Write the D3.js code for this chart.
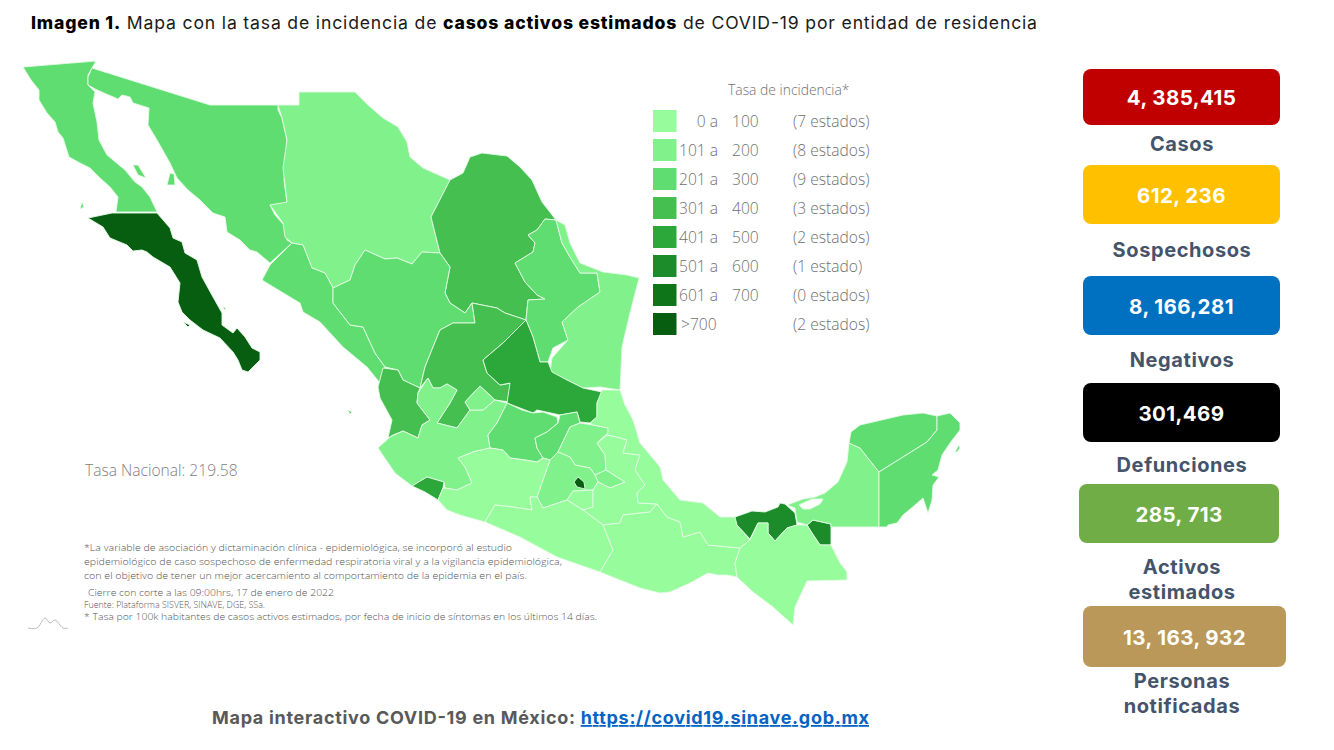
<!DOCTYPE html>
<html>
<head>
<meta charset="utf-8">
<script src="https://cdn.jsdelivr.net/npm/d3@7"></script>
<style>
html, body { margin: 0; background: #fff; }
svg { display: block; }
text { font-family: "Open Sans", sans-serif; }
.bold { font-family: Inter, sans-serif; font-weight: 700; }
</style>
</head>
<body>
<svg id="chart" width="1334" height="750"></svg>
<script>
// values
var stateNames = ['Baja California', 'Baja California Sur', 'Sonora', 'Chihuahua', 'Coahuila', 'Nuevo Leon', 'Tamaulipas',
    'Sinaloa', 'Durango', 'Zacatecas', 'Nayarit', 'Jalisco', 'Aguascalientes', 'Colima', 'San Luis Potosi', 'Guanajuato',
    'Queretaro', 'Hidalgo', 'Tlaxcala', 'Mexico', 'Ciudad de Mexico', 'Morelos', 'Puebla', 'Michoacan', 'Guerrero',
    'Oaxaca', 'Veracruz', 'Tabasco', 'Chiapas', 'Campeche', 'Yucatan', 'Quintana Roo'];
var stateRates = [260, 780, 250, 170, 350, 270, 150,
    240, 230, 340, 320, 180, 160, 450, 440, 240,
    280, 190, 130, 170, 860, 90, 80, 85, 60,
    50, 70, 550, 30, 150, 260, 280];

var rateBreaks = [101, 201, 301, 401, 501, 601, 701];
var rateColors = ['#97fc9b', '#80f18b', '#60dd71', '#45bf50', '#2ca83a', '#1c8c2b', '#0e7619', '#075d10'];
var legendFrom = ['0 a', '101 a', '201 a', '301 a', '401 a', '501 a', '601 a', '>700'];
var legendTo = ['100', '200', '300', '400', '500', '600', '700', ''];
var legendCounts = ['(7 estados)', '(8 estados)', '(9 estados)', '(3 estados)', '(2 estados)', '(1 estado)', '(0 estados)', '(2 estados)'];

var cardValues = ['4, 385,415', '612, 236', '8, 166,281', '301,469', '285, 713', '13, 163, 932'];
var cardColors = ['#c00000', '#ffc000', '#0070c0', '#000000', '#70ad47', '#b99859'];
var cardLabels = [['Casos'], ['Sospechosos'], ['Negativos'], ['Defunciones'], ['Activos', 'estimados'], ['Personas', 'notificadas']];

var footnotes = [
    '*La variable de asociación y dictaminación clínica - epidemiológica, se incorporó al estudio',
    'epidemiológico de caso sospechoso de enfermedad respiratoria viral y a la vigilancia epidemiológica,',
    'con el objetivo de tener un mejor acercamiento al comportamiento de la epidemia en el país.',
    'Cierre con corte a las 09:00hrs, 17 de enero de 2022',
    'Fuente: Plataforma SISVER, SINAVE, DGE, SSa.',
    '* Tasa por 100k habitantes de casos activos estimados, por fecha de inicio de síntomas en los últimos 14 días.'
];

// state outlines, same order as stateNames (a state can have several rings)
var stateOutlines = [
    [[[23,67],[96,61],[88,75],[88,85],[95,92],[93,103],[97,122],[99,140],[107,155],[125,170],[135,182],[142,187],[150,197],[157,212],[116,212],[118,197],[110,187],[100,178],[90,168],[80,163],[69,157],[63,138],[58,132],[55,122],[47,113],[39,100],[39,90],[31,80]],
     [[133,165],[138,165],[146,178],[138,175]], [[80,209],[82,202],[84,207]]],
    [[[88,218],[112,213],[157,213],[170,228],[173,238],[182,242],[185,253],[197,260],[202,277],[213,297],[222,313],[222,325],[233,333],[237,328],[245,337],[252,348],[260,352],[260,360],[248,372],[242,370],[238,360],[233,352],[220,338],[203,330],[190,320],[182,312],[178,302],[180,283],[170,267],[153,257],[147,252],[142,250],[133,251],[127,245],[110,238],[103,227]],
     [[183,322],[190,325],[188,327]], [[223,306],[226,309],[224,309]]],
    [[[92,68],[210,105],[278,105],[278,110],[282,118],[287,140],[287,167],[284,180],[287,203],[270,205],[275,215],[284,225],[287,240],[292,243],[270,263],[257,252],[250,250],[240,240],[227,232],[225,217],[213,213],[200,200],[188,190],[177,178],[170,163],[157,140],[148,125],[149,108],[133,103],[130,97],[122,95],[118,99],[97,90],[88,85],[88,77]],
     [[170,173],[174,174],[175,185],[167,185]]],
    [[[278,105],[299,105],[299,92],[355,92],[368,105],[383,118],[398,127],[407,142],[410,157],[423,168],[450,180],[431,217],[440,253],[422,252],[412,264],[397,258],[385,259],[365,250],[355,265],[350,280],[333,288],[325,273],[312,268],[303,245],[292,243],[285,237],[283,223],[270,205],[287,202],[283,168],[287,140],[282,118]]],
    [[[450,180],[463,173],[470,157],[482,153],[507,156],[520,167],[532,180],[542,202],[556,220],[545,219],[537,230],[528,235],[535,243],[533,252],[515,263],[525,282],[537,295],[545,299],[528,300],[526,320],[505,313],[497,308],[472,303],[465,313],[450,303],[445,293],[450,267],[440,253],[431,217]]],
    [[[545,219],[556,220],[562,243],[570,257],[580,273],[597,273],[600,292],[578,307],[562,322],[568,340],[553,348],[548,362],[540,362],[533,337],[526,320],[528,300],[545,299],[537,295],[525,282],[515,263],[533,252],[535,243],[528,235],[537,230]]],
    [[[556,220],[565,225],[570,243],[580,263],[603,272],[627,275],[639,278],[630,313],[622,347],[620,390],[600,387],[583,388],[567,380],[550,372],[552,358],[568,340],[562,322],[578,307],[600,292],[597,273],[580,273],[570,257],[562,243]]],
    [[[292,243],[303,245],[312,268],[325,273],[333,288],[333,303],[350,325],[363,327],[375,353],[385,367],[380,383],[367,367],[343,347],[320,322],[303,312],[300,303],[275,288],[262,280],[270,265]]],
    [[[333,288],[350,280],[355,265],[365,250],[385,259],[397,258],[412,264],[422,252],[440,253],[450,267],[445,293],[450,303],[465,313],[472,303],[475,323],[453,323],[440,330],[433,347],[425,367],[420,388],[403,380],[398,370],[385,367],[375,353],[363,327],[350,325],[333,303]]],
    [[[475,323],[472,303],[497,308],[505,313],[526,320],[503,343],[483,360],[487,373],[500,385],[512,383],[510,402],[495,400],[480,386],[465,402],[470,410],[457,428],[437,423],[450,403],[457,390],[447,384],[440,388],[433,388],[428,378],[420,388],[425,367],[433,347],[440,330],[453,323]]],
    [[[383,368],[398,370],[403,380],[420,388],[418,393],[417,403],[430,420],[422,425],[418,438],[403,431],[393,435],[388,438],[392,420],[380,398],[378,387]], [[348,410],[352,412],[350,414]]],
    [[[378,448],[390,437],[403,431],[418,438],[422,425],[430,420],[417,403],[418,393],[428,378],[433,388],[440,388],[447,384],[457,390],[450,403],[437,423],[457,428],[470,410],[483,410],[495,400],[507,403],[497,423],[488,435],[490,448],[473,452],[458,458],[465,467],[472,483],[457,490],[445,488],[444,482],[427,477],[412,486],[395,473]]],
    [[[465,402],[480,386],[495,400],[483,410],[470,410]]],
    [[[412,486],[427,477],[444,482],[443,488],[438,500],[425,492]]],
    [[[526,320],[533,337],[540,362],[548,362],[552,372],[567,380],[583,388],[602,392],[597,403],[597,417],[590,423],[580,422],[577,412],[560,415],[537,410],[533,413],[507,403],[510,383],[500,385],[487,373],[483,360],[503,343]]],
    [[[507,403],[522,410],[533,413],[543,412],[557,417],[558,423],[547,432],[535,438],[537,448],[543,458],[537,462],[525,460],[510,458],[503,450],[490,448],[488,435],[497,423]]],
    [[[558,423],[560,415],[577,412],[580,423],[570,427],[558,452],[550,460],[543,458],[537,448],[535,438],[547,432]]],
    [[[570,427],[580,423],[593,425],[608,428],[608,433],[597,443],[605,455],[606,470],[595,475],[590,468],[575,465],[570,457],[558,452]]],
    [[[595,475],[606,470],[625,482],[610,488],[598,482]]],
    [[[550,460],[558,452],[570,457],[575,465],[590,468],[595,475],[598,482],[593,490],[587,490],[573,491],[567,500],[543,508],[537,497]]],
    [[[578,477],[584,482],[585,489],[577,487],[574,482]]],
    [[[573,491],[593,490],[593,507],[583,510],[567,500]]],
    [[[597,443],[607,435],[617,437],[627,440],[623,453],[640,455],[635,470],[645,485],[637,493],[638,503],[657,504],[650,512],[623,515],[620,523],[603,525],[583,510],[593,507],[593,490],[598,482],[610,488],[625,482],[606,470],[605,455]]],
    [[[438,500],[443,488],[457,490],[472,483],[465,467],[458,458],[473,452],[490,448],[503,450],[510,458],[525,460],[537,462],[543,458],[550,460],[537,497],[530,497],[532,510],[513,507],[495,505],[485,522],[460,515],[447,510]]],
    [[[485,522],[495,505],[513,507],[532,510],[530,497],[537,497],[543,508],[567,500],[583,510],[603,525],[613,550],[600,572],[557,557],[520,537]]],
    [[[603,525],[620,523],[623,515],[650,512],[657,504],[667,517],[680,522],[683,537],[700,532],[708,545],[740,548],[735,563],[737,577],[727,575],[718,575],[708,573],[690,583],[670,592],[660,593],[640,588],[600,572],[613,550]]],
    [[[602,390],[620,390],[625,405],[633,420],[640,443],[650,455],[660,467],[663,480],[680,500],[703,503],[720,517],[735,517],[737,525],[750,540],[740,548],[708,545],[700,532],[683,537],[680,522],[667,517],[657,504],[638,503],[637,493],[645,485],[635,470],[640,455],[623,453],[627,440],[617,437],[607,435],[597,443],[608,433],[608,428],[593,425],[590,423],[597,417],[597,403]]],
    [[[735,517],[752,511],[765,512],[778,507],[780,503],[785,504],[795,513],[797,525],[787,528],[775,541],[768,533],[768,523],[758,523],[750,539],[737,525]],
     [[807,525],[813,520],[831,524],[831,545],[820,545],[812,533]]],
    [[[750,540],[758,523],[768,523],[768,533],[775,541],[787,528],[797,525],[807,525],[812,533],[820,545],[831,545],[840,563],[847,572],[847,580],[807,581],[795,607],[793,625],[773,607],[753,592],[737,577],[735,563],[740,548]]],
    [[[849,443],[860,448],[879,472],[879,527],[831,527],[831,524],[813,520],[807,525],[797,522],[795,508],[787,505],[803,499],[815,497],[825,493],[838,482],[847,462]],
     [[799,505],[812,499],[823,499],[820,504],[810,509],[803,509]]],
    [[[849,443],[851,432],[860,425],[903,415],[923,413],[937,416],[937,430],[927,442],[879,472],[860,448]]],
    [[[937,416],[950,413],[960,423],[960,430],[950,443],[942,455],[938,470],[932,475],[939,477],[933,485],[932,500],[928,513],[923,498],[915,505],[903,515],[897,523],[888,525],[887,527],[879,527],[879,472],[927,442],[937,430]],
     [[955,452],[959,445],[960,448],[957,452]]]
];

var logoPoints = [[28,628],[37,628],[45,618],[50,623],[55,620],[63,628],[68,628]];

var svg = d3.select('#chart');

function closeRing(ring) {
    return ring.concat([ring[0]]);
}

function addText(x, y, string, size, color, cls) {
    return svg.append('text')
        .attr('x', x)
        .attr('y', y)
        .attr('font-size', size)
        .attr('fill', color)
        .attr('class', cls || null)
        .text(string);
}

// title, bold and regular pieces
var title = svg.append('text').attr('x', 31).attr('y', 29).attr('font-size', 17.6).attr('fill', '#1a1a1a')
    .attr('textLength', 1006).attr('lengthAdjust', 'spacing').style('font-family', 'Inter, sans-serif');
title.append('tspan').attr('font-weight', 800).attr('fill', '#000').text('Imagen 1.');
title.append('tspan').text(' Mapa con la tasa de incidencia de ');
title.append('tspan').attr('font-weight', 800).attr('fill', '#000').text('casos activos estimados');
title.append('tspan').text(' de COVID-19 por entidad de residencia');

// map
var color = d3.scaleThreshold().domain(rateBreaks).range(rateColors);
var path = d3.geoPath(d3.geoIdentity());

svg.append('g').selectAll('path')
    .data(stateNames)
    .join('path')
    .attr('d', function(d, i) {
        return path({
            type: 'MultiPolygon',
            coordinates: stateOutlines[i].map(function(ring) { return [closeRing(ring)]; })
        });
    })
    .attr('fill', function(d, i) { return color(stateRates[i]); })
    .attr('fill-rule', 'evenodd')
    .attr('stroke', '#e4fbe6')
    .attr('stroke-width', 0.9)
    .attr('stroke-linejoin', 'round');

// legend
var legendY = d3.scaleBand().domain(d3.range(legendFrom.length)).range([106, 338]);

addText(728, 95, 'Tasa de incidencia*', 13.9, '#707070').style('font-weight', 300);

var legend = svg.append('g').selectAll('g')
    .data(legendFrom)
    .join('g')
    .attr('transform', function(d, i) { return 'translate(0,' + legendY(i) + ')'; });

legend.append('rect')
    .attr('x', 653).attr('y', 4)
    .attr('width', 23.5).attr('height', 22)
    .attr('fill', function(d, i) { return rateColors[i]; });

legend.append('text')
    .attr('x', function(d, i) { return i === 7 ? 681 : 718; })
    .attr('y', 21)
    .attr('text-anchor', function(d, i) { return i === 7 ? 'start' : 'end'; })
    .attr('font-size', 15.6).attr('fill', '#707070').style('font-weight', 300)
    .text(function(d) { return d; });

legend.append('text')
    .attr('x', 732).attr('y', 21)
    .attr('font-size', 15.6).attr('fill', '#707070').style('font-weight', 300)
    .text(function(d, i) { return legendTo[i]; });

legend.append('text')
    .attr('x', 793).attr('y', 21)
    .attr('font-size', 15.6).attr('fill', '#707070').style('font-weight', 300)
    .text(function(d, i) { return legendCounts[i]; });

addText(85, 476, 'Tasa Nacional: 219.58', 15.6, '#808080').style('font-weight', 300);

// footnotes
var noteX = [84, 84, 84, 88, 84, 84];
var noteY = [551, 565, 579, 596, 608, 620];
var noteW = [428, 478, 443, 246, 181, 513];

svg.append('g').selectAll('text')
    .data(footnotes)
    .join('text')
    .attr('x', function(d, i) { return noteX[i]; })
    .attr('y', function(d, i) { return noteY[i]; })
    .attr('font-size', 9.6)
    .attr('fill', '#555')
    .style('font-weight', 300)
    .attr('textLength', function(d, i) { return noteW[i]; })
    .attr('lengthAdjust', 'spacingAndGlyphs')
    .text(function(d) { return d; });

svg.append('path')
    .attr('d', d3.line().curve(d3.curveCatmullRom)(logoPoints))
    .attr('fill', 'none')
    .attr('stroke', '#aaa')
    .attr('stroke-width', 0.8);

// summary cards on the right
var cardX = [1083, 1083, 1083, 1083, 1079, 1083];
var cardW = [197, 197, 197, 197, 200, 203];
var cardTop = [69, 165, 276, 383, 484, 606];
var cardH = [56, 59, 59, 59, 59, 61];
var labelY = [151, 257, 367, 472, 574, 688];

var cards = svg.append('g').selectAll('g')
    .data(cardValues)
    .join('g');

cards.append('rect')
    .attr('x', function(d, i) { return cardX[i]; })
    .attr('y', function(d, i) { return cardTop[i]; })
    .attr('width', function(d, i) { return cardW[i]; })
    .attr('height', function(d, i) { return cardH[i]; })
    .attr('rx', 8)
    .attr('fill', function(d, i) { return cardColors[i]; });

cards.append('text')
    .attr('class', 'bold')
    .attr('x', function(d, i) { return cardX[i] + cardW[i] / 2; })
    .attr('y', function(d, i) { return cardTop[i] + cardH[i] / 2 + 8; })
    .attr('text-anchor', 'middle')
    .attr('font-size', 20.5)
    .attr('letter-spacing', 0.4)
    .attr('fill', '#fff')
    .text(function(d) { return d; });

cards.each(function(d, i) {
    var card = d3.select(this);
    cardLabels[i].forEach(function(line, j) {
        card.append('text')
            .attr('class', 'bold')
            .attr('x', 1182)
            .attr('y', labelY[i] + j * 25)
            .attr('text-anchor', 'middle')
            .attr('font-size', 20)
            .attr('letter-spacing', 0.6)
            .attr('fill', '#44546a')
            .text(line);
    });
});

// link line at the bottom
var link = svg.append('text').attr('class', 'bold').attr('x', 212).attr('y', 724)
    .attr('font-size', 18).attr('fill', '#595959')
    .attr('textLength', 657).attr('lengthAdjust', 'spacing');
link.append('tspan').text('Mapa interactivo COVID-19 en México: ');
link.append('tspan').attr('fill', '#0563c1').attr('text-decoration', 'underline').text('https://covid19.sinave.gob.mx');
</script>
</body>
</html>
